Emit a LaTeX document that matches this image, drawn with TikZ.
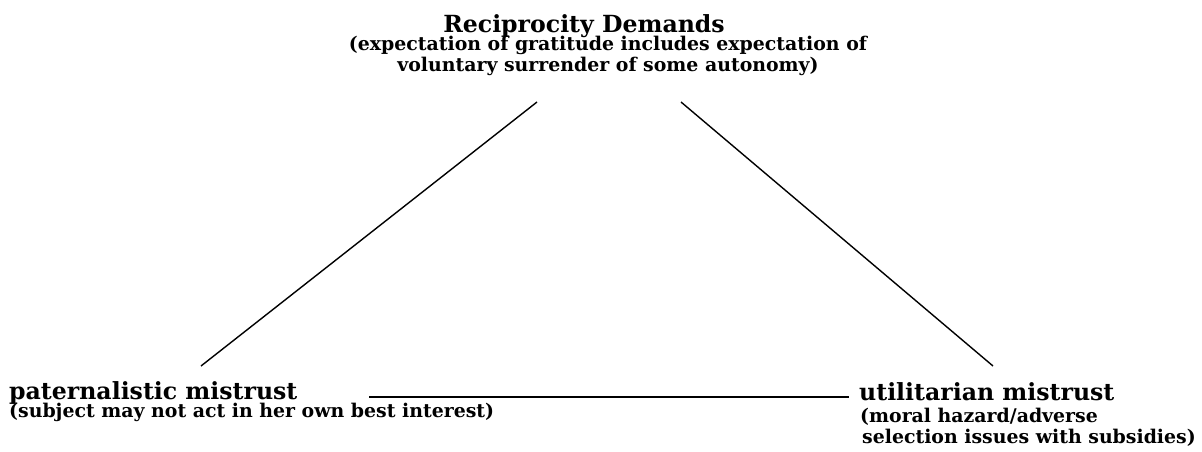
\documentclass[tikz,border=0pt]{standalone}
\usepackage{fontspec}
\setmainfont{DejaVu Serif}
\usetikzlibrary{positioning}
\begin{document}
\begin{tikzpicture}[x=1pt,y=-1pt,
    heading/.style={font=\bfseries\fontsize{23.6}{26}\selectfont,inner sep=0pt},
    note/.style={font=\bfseries\fontsize{18.9}{20.5}\selectfont,inner sep=0pt},
    side/.style={line width=1.4pt}]
    \useasboundingbox (0,0) rectangle (1202,451);
    % top corner
    \node[heading,anchor=base] (recip) at (584,32) {Reciprocity Demands};
    \node[note,anchor=base,align=center] (recipnote) at (608,71)
        {(expectation of gratitude includes expectation of\\voluntary surrender of some autonomy)};
    % bottom left corner
    \node[heading,anchor=base west] (pater) at (9,399) {paternalistic mistrust};
    \node[note,anchor=base west] (paternote) at (9,417) {(subject may not act in her own best interest)};
    % bottom right corner
    \node[heading,anchor=base west] (util) at (859,400) {utilitarian mistrust};
    \node[note,anchor=base west,align=left] (utilnote) at (860,443)
        {(moral hazard/adverse\\\hspace*{2pt}selection issues with subsidies)};
    % ends of the sides
    \coordinate (topL) at (537,102);
    \coordinate (topR) at (681,102);
    \coordinate (leftT) at (201,366);
    \coordinate (rightT) at (993,366);
    \coordinate (leftR) at (369,397);
    \coordinate (rightL) at (849,397);
    \draw[side] (topL) -- (leftT);
    \draw[side] (topR) -- (rightT);
    \draw[side] (leftR) -- (rightL);
\end{tikzpicture}
\end{document}
